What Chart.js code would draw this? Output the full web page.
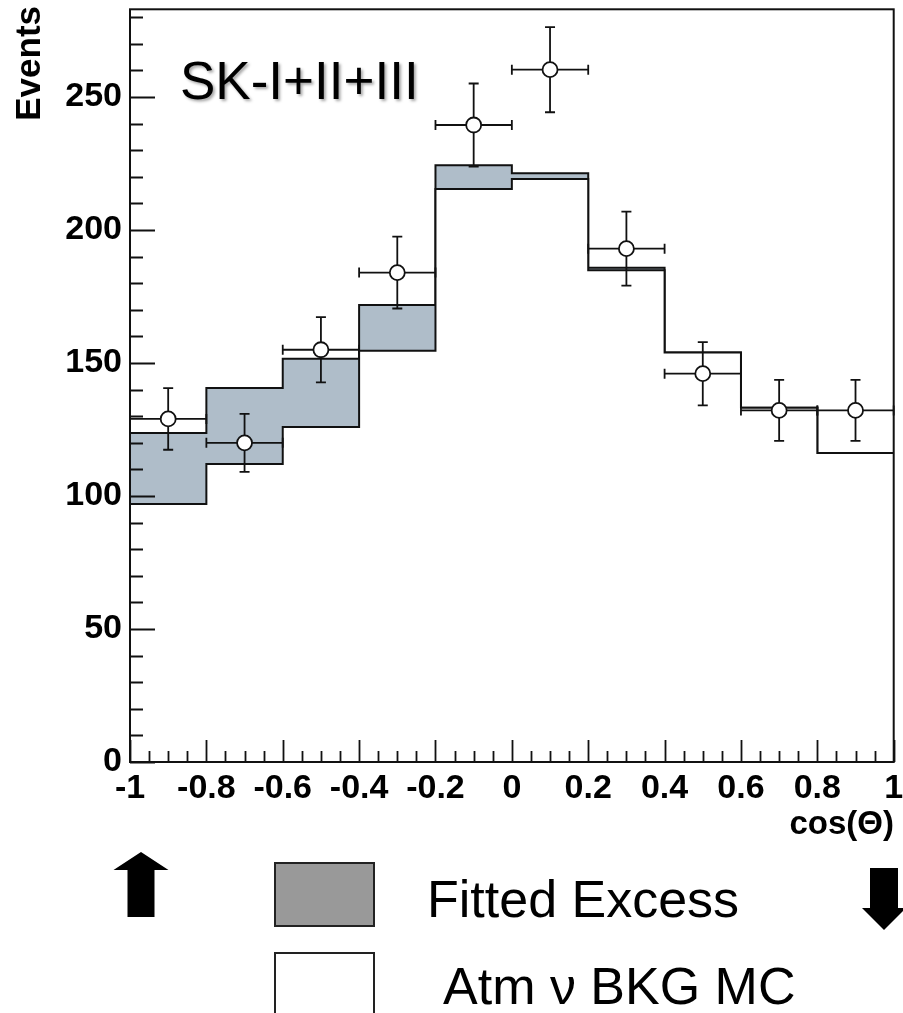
<!DOCTYPE html>
<html>
<head>
<meta charset="utf-8">
<script src="https://cdn.jsdelivr.net/npm/chart.js@4.4.0/dist/chart.umd.min.js"></script>
<style>
  html, body { margin: 0; padding: 0; background: #fff; }
  canvas { display: block; }
</style>
</head>
<body>
<canvas id="cosChart" width="903" height="1013"></canvas>
<script>
// cos(theta) distribution: 10 bins from -1 to 1
const binEdges = [-1, -0.8, -0.6, -0.4, -0.2, 0, 0.2, 0.4, 0.6, 0.8, 1];
const bkgMC = [97, 112, 126, 154.6, 215.4, 219.2, 184.9, 154, 133.2, 116.2];
const bkgPlusExcess = [123.7, 140.6, 151.6, 171.8, 224.4, 221.4, 185.8, 154, 133.2, 116.2];

// observed events with errors
const dataX = [-0.9, -0.7, -0.5, -0.3, -0.1, 0.1, 0.3, 0.5, 0.7, 0.9];
const dataY = [129, 120, 155, 184, 239.5, 260.3, 193, 146, 132.2, 132.2];
const dataErr = [11.6, 10.9, 12.3, 13.5, 15.6, 16, 13.9, 11.9, 11.5, 11.5];
const binHalf = 0.1;

const xTicks = [-1, -0.8, -0.6, -0.4, -0.2, 0, 0.2, 0.4, 0.6, 0.8, 1];
const xTickLabels = ['-1', '-0.8', '-0.6', '-0.4', '-0.2', '0', '0.2', '0.4', '0.6', '0.8', '1'];
const yTicks = [0, 50, 100, 150, 200, 250];
const yMax = 283;

const FONT = "'Liberation Sans', Arial, Helvetica, sans-serif";
const INK = '#111';

function stepPoints(vals) {
  return binEdges.map((x, i) => ({ x: x, y: vals[Math.min(i, vals.length - 1)] }));
}

const histDecor = {
  id: 'histDecor',
  // error bars go under the open circles
  beforeDatasetDraw(chart, args) {
    if (args.index !== 0) return;
    const ctx = chart.ctx;
    const xs = chart.scales.x, ys = chart.scales.y;
    ctx.save();
    ctx.strokeStyle = INK;
    ctx.lineWidth = 1.8;
    const cap = 5;
    dataX.forEach((x, i) => {
      const px = xs.getPixelForValue(x);
      const py = ys.getPixelForValue(dataY[i]);
      const top = ys.getPixelForValue(dataY[i] + dataErr[i]);
      const bot = ys.getPixelForValue(dataY[i] - dataErr[i]);
      const l = xs.getPixelForValue(x - binHalf);
      const r = xs.getPixelForValue(x + binHalf);
      ctx.beginPath();
      ctx.moveTo(px, top); ctx.lineTo(px, bot);
      ctx.moveTo(px - cap, top); ctx.lineTo(px + cap, top);
      ctx.moveTo(px - cap, bot); ctx.lineTo(px + cap, bot);
      ctx.moveTo(l, py); ctx.lineTo(r, py);
      ctx.moveTo(l, py - cap); ctx.lineTo(l, py + cap);
      ctx.moveTo(r, py - cap); ctx.lineTo(r, py + cap);
      ctx.stroke();
    });
    ctx.restore();
  },
  // inward ticks and the frame, on top of the histograms
  afterDatasetsDraw(chart) {
    const ctx = chart.ctx;
    const a = chart.chartArea;
    const xs = chart.scales.x, ys = chart.scales.y;
    ctx.save();
    ctx.strokeStyle = INK;
    ctx.lineWidth = 1.8;
    ctx.beginPath();
    for (let v = 0; v <= yMax; v += 10) {
      const py = Math.round(ys.getPixelForValue(v)) + 0.5;
      const len = v % 50 === 0 ? 25 : 13;
      ctx.moveTo(a.left, py); ctx.lineTo(a.left + len, py);
    }
    for (let k = 0; k <= 40; k++) {
      const px = Math.round(xs.getPixelForValue(-1 + k * 0.05)) + 0.5;
      const len = k % 4 === 0 ? 22 : 11;
      ctx.moveTo(px, a.bottom); ctx.lineTo(px, a.bottom - len);
    }
    ctx.stroke();
    ctx.lineWidth = 2;
    ctx.strokeRect(a.left, a.top, a.right - a.left, a.bottom - a.top);
    ctx.restore();
  },
  afterDraw(chart) {
    const ctx = chart.ctx;
    ctx.save();
    ctx.fillStyle = '#000';

    // y axis title
    ctx.save();
    ctx.translate(40, 6);
    ctx.rotate(-Math.PI / 2);
    ctx.font = 'bold 35px ' + FONT;
    ctx.textAlign = 'right';
    ctx.textBaseline = 'alphabetic';
    ctx.fillText('Events', 0, 0);
    ctx.restore();

    // x axis title
    ctx.font = 'bold 33px ' + FONT;
    ctx.textAlign = 'right';
    ctx.textBaseline = 'alphabetic';
    ctx.fillText('cos(\u0398)', 894, 834);

    // sample label with a soft shadow
    ctx.save();
    ctx.font = '53px ' + FONT;
    ctx.textAlign = 'left';
    ctx.shadowColor = 'rgba(0,0,0,0.35)';
    ctx.shadowOffsetX = 2;
    ctx.shadowOffsetY = 2;
    ctx.shadowBlur = 3;
    ctx.fillText('SK-I+II+III', 180, 99);
    ctx.restore();

    // legend boxes
    ctx.lineWidth = 2;
    ctx.strokeStyle = '#222';
    ctx.fillStyle = '#999999';
    ctx.fillRect(275, 863, 99, 63);
    ctx.strokeRect(275, 863, 99, 63);
    ctx.fillStyle = '#fff';
    ctx.fillRect(275, 953, 99, 70);
    ctx.strokeRect(275, 953, 99, 70);

    ctx.fillStyle = '#000';
    ctx.font = '52px ' + FONT;
    ctx.textAlign = 'left';
    ctx.fillText('Fitted Excess', 427, 917);
    ctx.fillText('Atm \u03BD BKG MC', 443, 1004);

    // up-going / down-going arrows
    ctx.beginPath();
    ctx.moveTo(141, 852);
    ctx.lineTo(168.5, 870);
    ctx.lineTo(154.5, 870);
    ctx.lineTo(154.5, 917);
    ctx.lineTo(127.5, 917);
    ctx.lineTo(127.5, 870);
    ctx.lineTo(113.5, 870);
    ctx.closePath();
    ctx.fill();

    ctx.beginPath();
    ctx.moveTo(884, 930);
    ctx.lineTo(906, 908);
    ctx.lineTo(898, 908);
    ctx.lineTo(898, 868);
    ctx.lineTo(870, 868);
    ctx.lineTo(870, 908);
    ctx.lineTo(862, 908);
    ctx.closePath();
    ctx.fill();

    ctx.restore();
  }
};

const ctx = document.getElementById('cosChart').getContext('2d');
const chart = new Chart(ctx, {
  type: 'line',
  data: {
    datasets: [
      {
        label: 'Data',
        type: 'scatter',
        data: dataX.map((x, i) => ({ x: x, y: dataY[i] })),
        showLine: false,
        pointStyle: 'circle',
        pointRadius: 7.5,
        pointBackgroundColor: '#fff',
        pointBorderColor: INK,
        pointBorderWidth: 1.8,
        order: 0
      },
      {
        label: 'Atm \u03BD BKG MC',
        data: stepPoints(bkgMC),
        stepped: true,
        fill: 'origin',
        backgroundColor: '#ffffff',
        borderColor: INK,
        borderWidth: 2,
        pointRadius: 0,
        order: 1
      },
      {
        label: 'Fitted Excess',
        data: stepPoints(bkgPlusExcess),
        stepped: true,
        fill: 'origin',
        backgroundColor: '#afbdc9',
        borderColor: INK,
        borderWidth: 2,
        pointRadius: 0,
        order: 2
      }
    ]
  },
  options: {
    responsive: false,
    animation: false,
    devicePixelRatio: 1,
    events: [],
    layout: { padding: { top: 6, right: 6, left: 0, bottom: 0 } },
    plugins: {
      legend: { display: false },
      tooltip: { enabled: false }
    },
    scales: {
      x: {
        type: 'linear',
        min: -1,
        max: 1,
        afterBuildTicks: s => { s.ticks = xTicks.map(v => ({ value: v })); },
        afterFit: s => {
          s.height = 251;
          s.paddingLeft = 0;
          s.paddingRight = 0;
        },
        grid: { display: false, drawTicks: false },
        border: { display: false },
        ticks: {
          autoSkip: false,
          maxRotation: 0,
          padding: 6,
          color: '#000',
          font: { family: FONT, size: 34, weight: 'bold' },
          callback: (v, i) => xTickLabels[i]
        }
      },
      y: {
        type: 'linear',
        min: 0,
        max: yMax,
        afterBuildTicks: s => { s.ticks = yTicks.map(v => ({ value: v })); },
        afterFit: s => {
          s.width = 130;
          s.paddingTop = 0;
          s.paddingBottom = 0;
        },
        grid: { display: false, drawTicks: false },
        border: { display: false },
        ticks: {
          padding: 8,
          color: '#000',
          font: { family: FONT, size: 34, weight: 'bold' },
          callback: v => String(v)
        }
      }
    }
  },
  plugins: [histDecor]
});
</script>
</body>
</html>
